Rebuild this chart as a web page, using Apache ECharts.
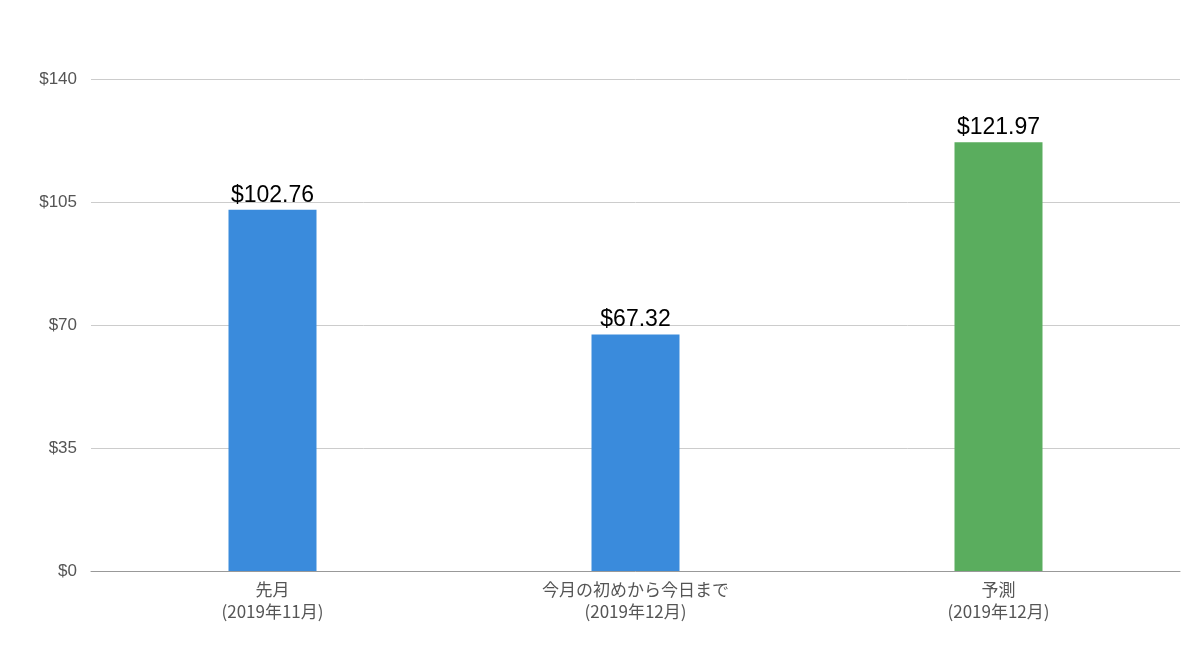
<!DOCTYPE html>
<html>
<head>
<meta charset="utf-8">
<script src="https://cdn.jsdelivr.net/npm/echarts@6/dist/echarts.min.js"></script>
<style>
  html, body { margin: 0; padding: 0; background: #fff; }
  #main { width: 1200px; height: 670px; }
</style>
</head>
<body>
<div id="main"></div>
<script>
const categories = ["先月\n(2019年11月)", "今月の初めから今日まで\n(2019年12月)", "予測\n(2019年12月)"];
const values = [102.76, 67.32, 121.97];
const barColors = ["#3a8bdc", "#3a8bdc", "#5aad5e"];

const chart = echarts.init(document.getElementById("main"));
chart.setOption({
  animation: false,
  grid: { left: 91, right: 20, top: 79, bottom: 99 },
  xAxis: {
    type: "category",
    data: categories,
    axisTick: { show: false },
    axisLine: { lineStyle: { color: "#999" } },
    axisLabel: {
      color: "#555",
      fontSize: 17,
      lineHeight: 22,
      margin: 8,
      fontFamily: "Noto Sans CJK JP",
    },
  },
  yAxis: {
    type: "value",
    min: 0,
    max: 140,
    interval: 35,
    axisLabel: {
      color: "#555",
      fontSize: 17,
      margin: 14,
      fontFamily: "Liberation Sans",
      formatter: (v) => "$" + v,
    },
    splitLine: { lineStyle: { color: "#ccc" } },
  },
  series: [
    {
      type: "bar",
      barWidth: 88,
      data: values.map((v, i) => ({ value: v, itemStyle: { color: barColors[i] } })),
      label: {
        show: true,
        position: "top",
        distance: 3,
        color: "#000",
        fontSize: 23,
        fontFamily: "Liberation Sans",
        formatter: (p) => "$" + p.value.toFixed(2),
      },
    },
  ],
});
</script>
</body>
</html>
